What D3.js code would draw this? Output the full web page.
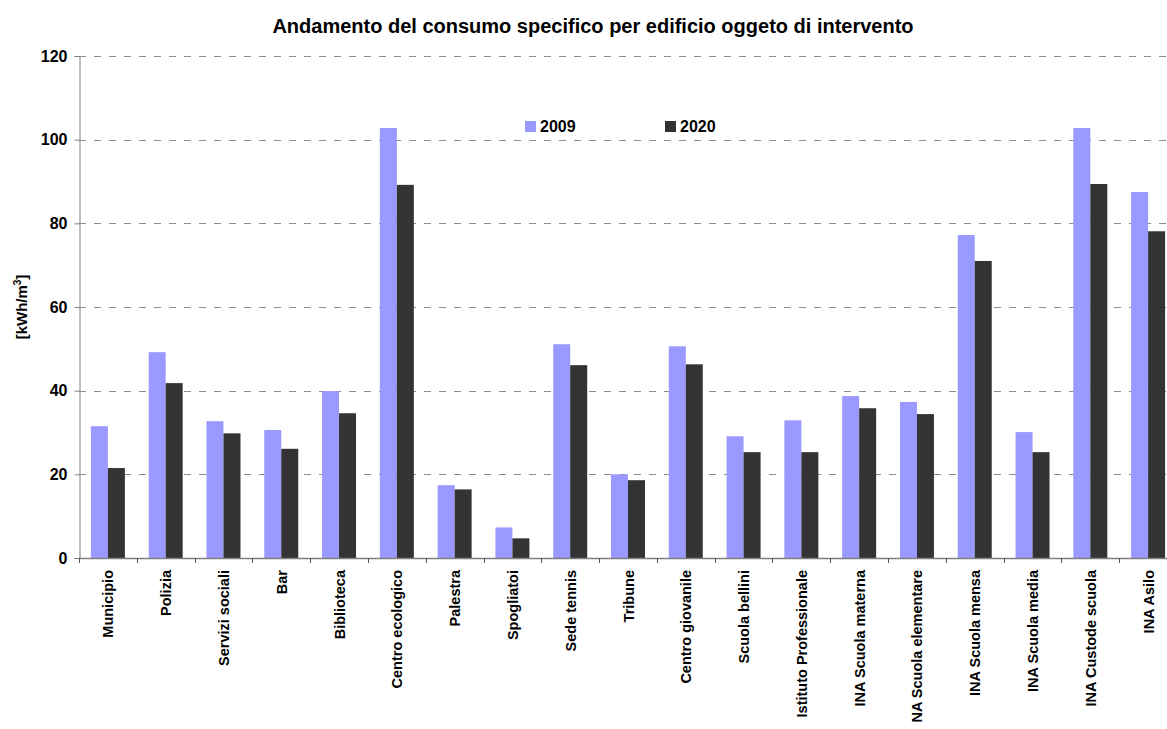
<!DOCTYPE html>
<html>
<head>
<meta charset="utf-8">
<script src="https://cdn.jsdelivr.net/npm/d3@7"></script>
<style>
  html, body { margin: 0; padding: 0; background: #fff; }
  svg { display: block; font-family: Arial, "Liberation Sans", sans-serif; }
</style>
</head>
<body>
<svg id="chart" width="1167" height="729"></svg>
<script>
// Specific consumption per building, kWh/m3
const categories = [
  "Municipio", "Polizia", "Servizi sociali", "Bar", "Biblioteca",
  "Centro ecologico", "Palestra", "Spogliatoi", "Sede tennis", "Tribune",
  "Centro giovanile", "Scuola bellini", "Istituto Professionale",
  "INA Scuola materna", "NA Scuola elementare", "INA Scuola mensa",
  "INA Scuola media", "INA Custode scuola", "INA Asilo"
];
const values2009 = [31.5, 49.2, 32.7, 30.6, 39.9, 102.8, 17.4, 7.3, 51.1, 20.0,
                    50.6, 29.1, 32.9, 38.7, 37.3, 77.2, 30.1, 102.8, 87.5];
const values2020 = [21.5, 41.8, 29.8, 26.1, 34.6, 89.2, 16.4, 4.7, 46.1, 18.6,
                    46.3, 25.3, 25.3, 35.8, 34.4, 71.0, 25.3, 89.4, 78.1];
const seriesNames = ["2009", "2020"];
const seriesColors = ["#9999FF", "#333333"];
const yTicks = [0, 20, 40, 60, 80, 100, 120];

const svg = d3.select("#chart");
const plotLeft = 79, plotRight = 1177, plotTop = 56, plotBottom = 558;

const x0 = d3.scaleBand().domain(categories).range([plotLeft, plotRight])
  .paddingInner(0.412).paddingOuter(0.206);
const x1 = d3.scaleBand().domain(seriesNames).range([0, x0.bandwidth()]);
const y = d3.scaleLinear().domain([0, 120]).range([plotBottom, plotTop]);

// Title
svg.append("text")
  .attr("x", 593).attr("y", 33)
  .attr("text-anchor", "middle")
  .attr("font-size", 20).attr("font-weight", "bold")
  .text("Andamento del consumo specifico per edificio oggeto di intervento");

// Dashed gridlines
svg.append("g").selectAll("line").data(yTicks.filter(d => d > 0)).join("line")
  .attr("x1", plotLeft).attr("x2", 1167)
  .attr("y1", d => Math.round(y(d)) + 0.5).attr("y2", d => Math.round(y(d)) + 0.5)
  .attr("stroke", "#8c8c8c").attr("stroke-width", 1)
  .attr("stroke-dasharray", "7,8");

// Bars
const groups = svg.append("g").selectAll("g").data(categories).join("g")
  .attr("transform", d => `translate(${x0(d)},0)`);
groups.selectAll("rect")
  .data((d, i) => [
    { s: "2009", v: values2009[i] },
    { s: "2020", v: values2020[i] }
  ])
  .join("rect")
  .attr("x", d => x1(d.s))
  .attr("width", x1.bandwidth())
  .attr("y", d => y(d.v))
  .attr("height", d => y(0) - y(d.v))
  .attr("fill", d => seriesColors[seriesNames.indexOf(d.s)]);

// Y axis
const yAxis = d3.axisLeft(y).tickValues(yTicks).tickSize(5).tickPadding(7);
const gy = svg.append("g").attr("transform", `translate(${plotLeft + 0.5},0)`).call(yAxis);
gy.select(".domain").attr("stroke", "#808080");
gy.selectAll(".tick line").attr("stroke", "#808080");
gy.selectAll(".tick text")
  .attr("font-size", 16).attr("font-weight", "bold")
  .attr("font-family", "Arial, 'Liberation Sans', sans-serif")
  .attr("fill", "#000");

// X axis baseline with boundary ticks
const step = x0.step();
const boundaries = d3.range(categories.length + 1).map(i => plotLeft + i * step);
svg.append("line")
  .attr("x1", plotLeft).attr("x2", 1167)
  .attr("y1", plotBottom + 0.5).attr("y2", plotBottom + 0.5)
  .attr("stroke", "#808080").attr("stroke-width", 1.5);
svg.append("g").selectAll("line").data(boundaries).join("line")
  .attr("x1", d => Math.round(d) + 0.5).attr("x2", d => Math.round(d) + 0.5)
  .attr("y1", plotBottom).attr("y2", plotBottom + 5)
  .attr("stroke", "#555");

// Category labels, rotated
svg.append("g")
  .selectAll("text").data(categories).join("text")
  .attr("transform", d => `translate(${x0(d) + x0.bandwidth() / 2 + 5.5},570) rotate(-90)`)
  .attr("text-anchor", "end")
  .attr("font-size", 14.5).attr("font-weight", "bold")
  .text(d => d);

// Y axis title
const yt = svg.append("text")
  .attr("transform", "translate(27,307) rotate(-90)")
  .attr("text-anchor", "middle")
  .attr("font-size", 15).attr("font-weight", "bold");
yt.append("tspan").text("[kWh/m");
yt.append("tspan").attr("font-size", 10).attr("dy", -6).text("3");
yt.append("tspan").attr("dy", 6).text("]");

// Legend
const legendX = [525, 665];
seriesNames.forEach((s, i) => {
  svg.append("rect").attr("x", legendX[i]).attr("y", 121)
    .attr("width", 11).attr("height", 11).attr("fill", seriesColors[i]);
  svg.append("text").attr("x", legendX[i] + 15).attr("y", 132)
    .attr("font-size", 16).attr("font-weight", "bold").text(s);
});
</script>
</body>
</html>
